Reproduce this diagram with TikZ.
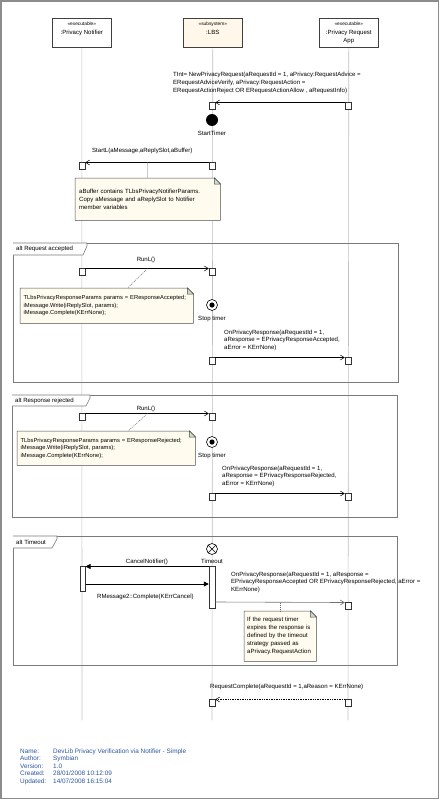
\documentclass[tikz,border=0pt]{standalone}
\usepackage{fontspec}
\newfontfamily\umlfont{Liberation Sans}
\usetikzlibrary{arrows.meta,calc,backgrounds}
\definecolor{notefill}{HTML}{FFFCEF}
\definecolor{headfill}{HTML}{FFF8EA}
\definecolor{foldgreen}{HTML}{CFDCC4}
\definecolor{footblue}{HTML}{2A55A0}
\definecolor{framegray}{HTML}{7A7A7A}
\newcommand{\drawnote}[1]{%
  \begin{scope}[on background layer]
    \draw[draw=black!70, line width=0.5pt, fill=notefill]
      (#1.north west) -- ([xshift=-6pt]#1.north east) -- ([yshift=-6pt]#1.north east)
      -- (#1.south east) -- (#1.south west) -- cycle;
    \draw[draw=black!70, line width=0.5pt, fill=foldgreen]
      ([xshift=-6pt]#1.north east) -- ([xshift=-6pt,yshift=-6pt]#1.north east)
      -- ([yshift=-6pt]#1.north east) -- cycle;
  \end{scope}}
\begin{document}
\begin{tikzpicture}[x=1pt,y=-1pt,
  every node/.style={font=\umlfont\fontsize{6.05}{7.9}\selectfont, inner sep=0pt},
  head/.style={draw=black!75, line width=0.6pt, minimum width=59pt, minimum height=29pt, anchor=north west, fill=white},
  stereo/.style={font=\umlfont\fontsize{4.8}{6}\selectfont, anchor=base},
  lifeline/.style={draw=black!70, line width=0.6pt, dash pattern=on 0.8pt off 1.2pt},
  exec/.style={draw=black!80, fill=white, line width=0.5pt, minimum width=6pt, minimum height=7pt, anchor=north},
  bar/.style={draw=black!80, fill=white, line width=0.5pt, minimum width=6pt, anchor=north},
  msg/.style={draw=black, line width=0.5pt, -{Straight Barb[length=4pt,width=5pt]}},
  ret/.style={msg, dash pattern=on 1pt off 0.7pt},
  fmsg/.style={draw=black, line width=0.6pt, -{Triangle[length=5pt,width=5pt]}},
  gmsg/.style={draw=black!55, line width=0.6pt, -{Straight Barb[length=4pt,width=5pt]}},
  noteline/.style={draw=black!60, line width=0.5pt, dash pattern=on 1pt off 1pt},
  notebox/.style={anchor=north west, align=left, inner xsep=4pt},
  frame/.style={draw=framegray, line width=0.8pt, anchor=north west},
  flabel/.style={draw=framegray, line width=0.6pt, fill=white},
  txt/.style={anchor=north west, align=left},
  lbl/.style={anchor=base west},
  foot/.style={anchor=base west, text=footblue, font=\umlfont\fontsize{6.4}{7.5}\selectfont}
]
\useasboundingbox (0,0) rectangle (440,800);
\draw[draw=black!45, line width=1.2pt] (1,1) rectangle (438.5,798.5);

% heads
\node[head] (h1) at (52,18) {};
\node[head, fill=headfill] (h2) at (183,18) {};
\node[head] (h3) at (319,18) {};
\node[stereo] (h1s) at ([yshift=-8pt]h1.north) {«executable»};
\node[anchor=base] (h1n) at ([yshift=-17pt]h1.north) {:Privacy Notifier};
\node[stereo] (h2s) at ([yshift=-8pt]h2.north) {«subsystem»};
\node[anchor=base] (h2n) at ([yshift=-17pt]h2.north) {:LBS};
\node[stereo] (h3s) at ([yshift=-8pt]h3.north) {«executable»};
\node[anchor=base, align=center] (h3n) at ([yshift=-17pt]h3.north) {:Privacy Request};
\node[anchor=base] (h3m) at ([yshift=-25pt]h3.north) {App};

% lifelines
\coordinate (l1end) at (82,720);
\coordinate (l2end) at (212,720);
\coordinate (l3end) at (348,720);
\begin{scope}[on background layer]
\draw[lifeline] (h1.south) -- (l1end);
\draw[lifeline] (h2.south) -- (l2end);
\draw[lifeline] (h3.south) -- (l3end);
\end{scope}

% message 1
\node[txt, font=\umlfont\fontsize{6.05}{8.4}\selectfont] (t1) at (173,71.5) {TInt= NewPrivacyRequest(aRequestId = 1, aPrivacy:RequestAdvice =\\ERequestAdviceVerify, aPrivacy:RequestAction =\\ERequestActionReject OR ERequestActionAllow , aRequestInfo)};
\node[exec] (e1s) at (348,101.5) {};
\node[exec] (e1t) at (212,101.5) {};
\draw[msg] ([yshift=-1pt]e1s.north west) -- ([yshift=-1pt]e1t.north east);
\node[circle, fill=black, minimum size=12pt] (st) at (212,120) {};
\node[anchor=base] (stl) at (212,135.5) {StartTimer};

% StartL
\node[lbl] (t2) at (92,152) {StartL(aMessage,aReplySlot,aBuffer)};
\node[exec] (e2s) at (212,161.5) {};
\node[exec] (e2t) at (82,161.5) {};
\draw[msg] ([yshift=-1pt]e2s.north west) -- ([yshift=-1pt]e2t.north east);
\node[notebox, text width=137pt, minimum height=42pt] (n1) at (75,178) {aBuffer contains TLbsPrivacyNotifierParams.\\Copy aMessage and aReplySlot to Notifier\\member variables};
\drawnote{n1}
\coordinate (c1) at (147.5,162.5);
\draw[noteline] (c1) -- (n1.north);

% frame 1
\node[frame, minimum width=385pt, minimum height=139pt] (f1) at (13,243) {};
\draw[flabel] (f1.north west) -- ++(74,0) -- ++(0,3) -- ++(-4,9) -- ++(-70,0);
\node[lbl] (f1l) at (16,250.5) {alt Request accepted};
\node[anchor=base] (t3) at (146,261) {RunL()};
\node[exec] (e3s) at (82,267.5) {};
\node[exec] (e3t) at (212,267.5) {};
\draw[msg] ([yshift=-1pt]e3s.north east) -- ([yshift=-1pt]e3t.north west);
\node[notebox, inner xsep=3.5pt, text width=166pt, minimum height=35pt, font=\umlfont\fontsize{5.8}{7.6}\selectfont] (n2) at (20,288) {\mbox{TLbsPrivacyResponseParams params = EResponseAccepted;}\\iMessage.Write(iReplySlot, params);\\iMessage.Complete(KErrNone);};
\drawnote{n2}
\coordinate (c2) at (147.5,268.5);
\draw[noteline] (c2) -- ([xshift=21pt]n2.north);
\node[circle, draw=black, line width=0.6pt, fill=white, minimum size=11pt] (sp1) at (212,305) {};
\fill (sp1) circle (2.6pt);
\node[anchor=base] (sp1l) at (212,320) {Stop timer};
\node[txt] (t4) at (224,329.5) {OnPrivacyResponse(aRequestId = 1,\\aResponse = EPrivacyResponseAccepted,\\aError = KErrNone)};
\node[exec] (e4s) at (212,356.5) {};
\node[exec] (e4t) at (348,356.5) {};
\draw[msg] ([yshift=-1pt]e4s.north east) -- ([yshift=-1pt]e4t.north west);

% frame 2
\node[frame, minimum width=385pt, minimum height=122pt] (f2) at (12,395) {};
\draw[flabel] (f2.north west) -- ++(78,0) -- ++(0,3) -- ++(-4,8) -- ++(-74,0);
\node[lbl] (f2l) at (15,402) {alt Response rejected};
\node[anchor=base] (t5) at (146,410) {RunL()};
\node[exec] (e5s) at (82,412.5) {};
\node[exec] (e5t) at (212,412.5) {};
\draw[msg] ([yshift=-1pt]e5s.north east) -- ([yshift=-1pt]e5t.north west);
\node[notebox, inner xsep=3.5pt, text width=171pt, minimum height=34pt, font=\umlfont\fontsize{5.8}{7.6}\selectfont] (n3) at (17,431) {\mbox{TLbsPrivacyResponseParams params = EResponseRejected;}\\iMessage.Write(iReplySlot, params);\\iMessage.Complete(KErrNone);};
\drawnote{n3}
\coordinate (c3) at (147.5,413.5);
\draw[noteline] (c3) -- ([xshift=22pt]n3.north);
\node[circle, draw=black, line width=0.6pt, fill=white, minimum size=11pt] (sp2) at (212,442) {};
\fill (sp2) circle (2.6pt);
\node[anchor=base] (sp2l) at (212,457) {Stop timer};
\node[txt] (t6) at (222,465.5) {OnPrivacyResponse(aRequestId = 1,\\aResponse = EPrivacyResponseRejected,\\aError = KErrNone)};
\node[exec] (e6s) at (212,492.5) {};
\node[exec] (e6t) at (348,492.5) {};
\draw[msg] ([yshift=-1pt]e6s.north east) -- ([yshift=-1pt]e6t.north west);

% frame 3
\node[frame, minimum width=384pt, minimum height=129pt] (f3) at (13,536) {};
\draw[flabel] (f3.north west) -- ++(44,0) -- ++(0,3) -- ++(-5,9) -- ++(-39,0);
\node[lbl] (f3l) at (16,544) {alt Timeout};
\node[circle, draw=black, line width=0.6pt, fill=white, minimum size=11pt] (to) at (212,549) {};
\draw[line width=0.6pt] (to.north west) -- (to.south east) (to.north east) -- (to.south west);
\node[anchor=base] (tol) at (212,563.5) {Timeout};
\node[bar, minimum height=42pt] (b1) at (212,566) {};
\node[bar, minimum height=25pt, minimum width=5.5pt] (b2) at (82.5,566) {};
\node[anchor=base] (t7) at (147,563) {CancelNotifier()};
\draw[fmsg] ([yshift=-0.5pt]b1.north west) -- ([yshift=-0.5pt]b2.north east);
\draw[fmsg] ([yshift=-18pt]b2.north east) -- ([yshift=-18pt]b1.north west);
\node[lbl] (t8) at (97,598) {RMessage2::Complete(KErrCancel)};
\node[txt] (t9) at (231,571.5) {OnPrivacyResponse(aRequestId = 1, aResponse =\\EPrivacyResponseAccepted OR EPrivacyResponseRejected, aError =\\KErrNone)};
\node[exec] (e9t) at (348,601.5) {};
\draw[gmsg] ([yshift=-36pt]b1.north east) -- ([yshift=-1pt]e9t.north west);
\node[notebox, inner xsep=3pt, text width=66pt, minimum height=50pt] (n4) at (244,611) {If the request timer\\expires the response is\\defined by the timeout\\strategy passed as\\aPrivacy.RequestAction};
\drawnote{n4}
\coordinate (c4) at (280,602.5);
\draw[noteline] (c4) -- (c4 |- n4.north);

% request complete
\node[lbl] (t10) at (210,688) {RequestComplete(aRequestId = 1,aReason = KErrNone)};
\node[exec] (e10s) at (348,698.5) {};
\node[exec] (e10t) at (212,698.5) {};
\draw[ret] ([yshift=-1pt]e10s.north west) -- ([yshift=-1pt]e10t.north east);

% footer
\node[foot] (fn1) at (20,753) {Name:};
\node[foot] (fn2) at (20,760.5) {Author:};
\node[foot] (fn3) at (20,768) {Version:};
\node[foot] (fn4) at (20,775.5) {Created:};
\node[foot] (fn5) at (20,783) {Updated:};
\node[foot] (fv1) at (53,753) {DevLib Privacy Verification via Notifier - Simple};
\node[foot] (fv2) at (53,760.5) {Symbian};
\node[foot] (fv3) at (53,768) {1.0};
\node[foot] (fv4) at (53,775.5) {28/01/2008 10:12:09};
\node[foot] (fv5) at (53,783) {14/07/2008 16:15:04};
\end{tikzpicture}
\end{document}
